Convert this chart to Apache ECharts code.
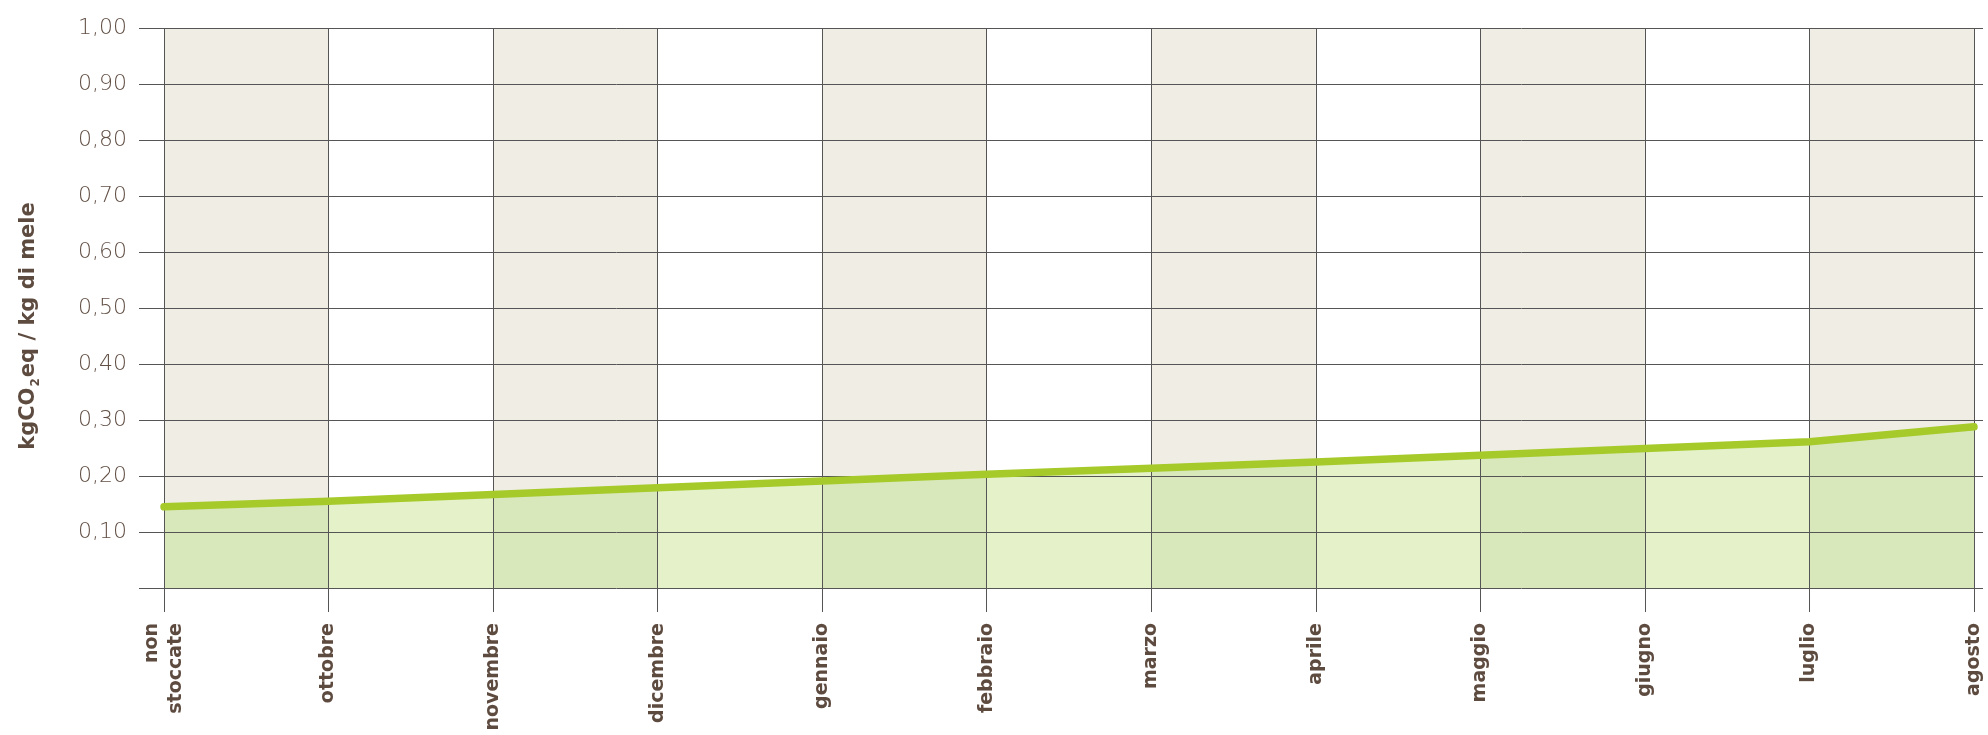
<!DOCTYPE html>
<html>
<head>
<meta charset="utf-8">
<script src="https://cdn.jsdelivr.net/npm/echarts@6/dist/echarts.min.js"></script>
<style>
html,body{margin:0;padding:0;background:#fff;}
#chart{width:1988px;height:735px;}
</style>
</head>
<body>
<div id="chart"></div>
<script>
const categories = ['non\nstoccate','ottobre','novembre','dicembre','gennaio','febbraio','marzo','aprile','maggio','giugno','luglio','agosto'];
const emissions = [0.145, 0.155, 0.167, 0.179, 0.191, 0.203, 0.214, 0.225, 0.237, 0.249, 0.261, 0.288];
const yTicks = { min: 0, max: 1, interval: 0.1 };
const yTitleParts = ['kgCO', '2', 'eq / kg di mele'];

const GRID_COLOR = '#555555';
const BEIGE = '#f0ede5';
const GREEN_DARK = '#d8e8bb';
const GREEN_LIGHT = '#e5f2c9';
const LINE_GREEN = '#a5ca2a';
const TEXT_DARK = '#5e4b40';

const n = categories.length;
const stops = [];
for (let i = 0; i < n - 1; i++) {
  const c = (i % 2 === 0) ? GREEN_DARK : GREEN_LIGHT;
  stops.push({ offset: i / (n - 1), color: c });
  stops.push({ offset: (i + 1) / (n - 1), color: c });
}

const chart = echarts.init(document.getElementById('chart'));
chart.setOption({
  animation: false,
  backgroundColor: '#ffffff',
  grid: { left: 164, right: 14, top: 28, bottom: 147, containLabel: false },
  graphic: [{
    type: 'text',
    x: 26, y: 326,
    rotation: Math.PI / 2,
    style: {
      text: '{m|' + yTitleParts[0] + '}{s|' + yTitleParts[1] + '}{m|' + yTitleParts[2] + '}',
      align: 'center',
      verticalAlign: 'middle',
      rich: {
        m: { fill: TEXT_DARK, fontFamily: '"DejaVu Sans", sans-serif', fontWeight: 'bold', fontSize: 21, lineHeight: 26, verticalAlign: 'bottom' },
        s: { fill: TEXT_DARK, fontFamily: '"DejaVu Sans", sans-serif', fontWeight: 'bold', fontSize: 12, lineHeight: 12, verticalAlign: 'bottom', padding: [0, 1, -3, 1] }
      }
    }
  }],
  xAxis: [{
    type: 'category',
    data: categories,
    boundaryGap: false,
    position: 'bottom',
    z: 3,
    axisLine: { show: false },
    axisTick: { show: true, length: 24, interval: 0, lineStyle: { color: GRID_COLOR, width: 1 } },
    axisLabel: {
      interval: 0, rotate: 90, margin: 35,
      color: TEXT_DARK, fontFamily: '"DejaVu Sans", sans-serif', fontWeight: 'bold', fontSize: 19, lineHeight: 24
    },
    splitLine: { show: true, interval: 0, lineStyle: { color: GRID_COLOR, width: 1 } },
    splitArea: { show: false }
  }, {
    type: 'category',
    data: categories,
    boundaryGap: false,
    position: 'top',
    z: 1,
    axisLine: { show: false },
    axisTick: { show: true, length: 16, interval: 0, lineStyle: { color: GRID_COLOR, width: 1 } },
    axisLabel: { show: false },
    splitLine: { show: false },
    splitArea: { show: true, interval: 0, areaStyle: { color: [BEIGE, 'rgba(255,255,255,0)'] } }
  }],
  yAxis: [{
    type: 'value',
    min: yTicks.min, max: yTicks.max, interval: yTicks.interval,
    position: 'left',
    z: 3,
    axisLine: { show: false },
    axisTick: { show: true, length: 25, lineStyle: { color: GRID_COLOR, width: 1 } },
    axisLabel: {
      margin: 37,
      color: '#625045', fontFamily: '"DejaVu Sans", sans-serif', fontWeight: 200, fontSize: 22,
      formatter: v => (Math.abs(v) < 1e-9 ? '' : v.toFixed(2).replace('.', ','))
    },
    splitLine: { show: true, lineStyle: { color: GRID_COLOR, width: 1 } }
  }, {
    type: 'value',
    min: yTicks.min, max: yTicks.max, interval: yTicks.interval,
    position: 'right',
    z: 3,
    axisLine: { show: false },
    axisTick: { show: true, length: 9, lineStyle: { color: GRID_COLOR, width: 1 } },
    axisLabel: { show: false },
    splitLine: { show: false }
  }],
  series: [{
    type: 'line',
    data: emissions,
    z: 2,
    silent: true,
    showSymbol: false,
    symbol: 'none',
    lineStyle: { width: 0, opacity: 0 },
    areaStyle: {
      opacity: 1,
      color: new echarts.graphic.LinearGradient(0, 0, 1, 0, stops)
    }
  }, {
    type: 'line',
    data: emissions,
    z: 5,
    silent: true,
    showSymbol: false,
    symbol: 'none',
    lineStyle: { width: 7.5, color: LINE_GREEN, cap: 'round', join: 'round' }
  }]
});
</script>
</body>
</html>
